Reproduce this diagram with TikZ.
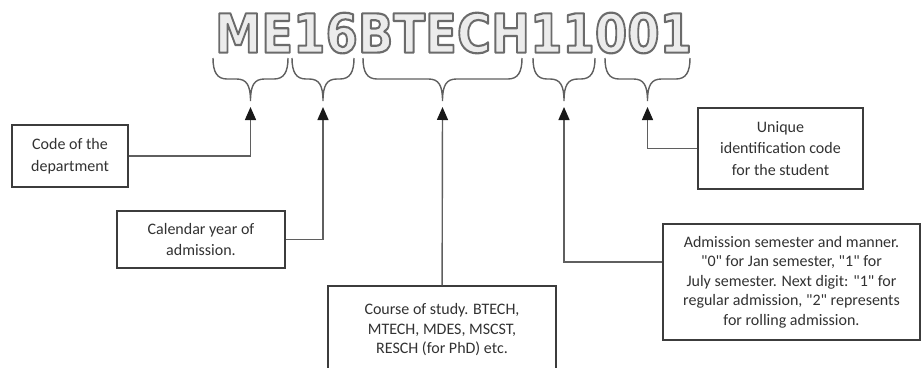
\documentclass[tikz,border=0pt]{standalone}
\usepackage{fontspec}
\setmainfont{Carlito}[Ligatures=TeXOff]
\newfontfamily\idfont{DejaVu Sans}[BoldFeatures={FakeBold=4}]
\usepackage{graphicx}
\usetikzlibrary{arrows.meta,calc}
\definecolor{idfill}{RGB}{236,236,236}
\definecolor{boxline}{RGB}{60,60,60}
\definecolor{linegray}{RGB}{95,95,95}
\definecolor{textgray}{RGB}{50,50,50}

% light letters, stroked with a grey rim
\newcommand{\idcode}{\resizebox{477pt}{40pt}{\idfont\bfseries\special{pdf:literal direct 0.42 0.42 0.42 RG 1 j}ME16BTECH11001}}

% curly brace under a group of characters: left x, right x, name of arrow end
\newcommand{\idbrace}[3]{%
  \pgfmathsetmacro{\bmid}{(#1+#2)/2}
  \draw[bracestroke] (#1,58) .. controls (#1,72) and (#1+4,79) .. (#1+14,79)
    -- (\bmid-14,79) .. controls (\bmid-4,79) and (\bmid,85) .. (\bmid,101)
    .. controls (\bmid,85) and (\bmid+4,79) .. (\bmid+14,79)
    -- (#2-14,79) .. controls (#2-4,79) and (#2,72) .. (#2,58);
  \coordinate (#3) at (\bmid,107);
}

\begin{document}
\begin{tikzpicture}[x=1pt, y=-1pt,
    infobox/.style={rectangle, draw=boxline, line width=1.1pt, fill=white, align=center, text=textgray, font=\fontsize{16}{21.5}\selectfont, inner sep=0pt},
    conn/.style={draw=linegray, line width=1.4pt, -{Triangle[length=13pt, width=11pt, color=black!90]}},
    bracestroke/.style={draw=linegray, line width=1.4pt},
    idtext/.style={inner sep=0pt, anchor=center, text=idfill}
]
\useasboundingbox (0,0) rectangle (921,367);
\clip (0,0) rectangle (921,367);

% the roll number
\node[idtext] (code) at (453.5,33) {\idcode};

% braces under the parts
\idbrace{213}{288}{deptTip}
\idbrace{292}{354}{yearTip}
\idbrace{363}{522}{courseTip}
\idbrace{533}{595}{semTip}
\idbrace{605}{690}{uniqTip}

% explanation boxes
\node[infobox, minimum width=116pt, minimum height=62pt] (dept) at (70,156) {Code of the\\department};
\node[infobox, minimum width=168pt, minimum height=57pt] (year) at (201,239.5) {Calendar year of\\admission.};
\node[infobox, minimum width=228pt, minimum height=88pt, font=\fontsize{16}{19.5}\selectfont] (course) at (442,330) {Course of study. BTECH,\\MTECH, MDES, MSCST,\\RESCH (for PhD) etc.};
\node[infobox, minimum width=257pt, minimum height=116pt, font=\fontsize{16}{19.5}\selectfont] (adm) at (791.5,282) {Admission semester and manner.\\"0" for Jan semester, "1" for\\July semester. Next digit: "1" for\\regular admission, "2" represents\\for rolling admission.};
\node[infobox, minimum width=165pt, minimum height=81pt] (uniq) at (780.5,148.5) {Unique\\identification code\\for the student};

% connectors
\coordinate (admIn) at ($(adm.north west)!0.33!(adm.south west)$);
\draw[conn] (dept) -| (deptTip);
\draw[conn] (year) -| (yearTip);
\draw[conn] (course) -- (courseTip);
\draw[conn] (admIn) -| (semTip);
\draw[conn] (uniq) -| (uniqTip);

\end{tikzpicture}
\end{document}
